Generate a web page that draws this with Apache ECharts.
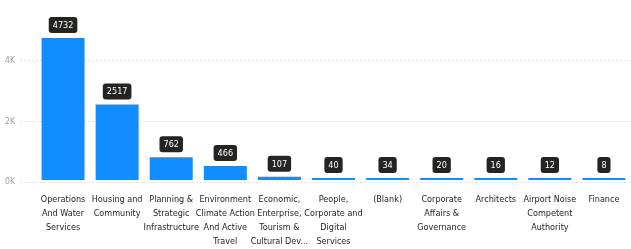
<!DOCTYPE html>
<html>
<head>
<meta charset="utf-8">
<script src="https://cdn.jsdelivr.net/npm/echarts@6/dist/echarts.min.js"></script>
<style>
  html, body { margin: 0; padding: 0; background: #fff; }
  #chart { width: 631px; height: 249px; }
</style>
</head>
<body>
<div id="chart"></div>
<script>
// Department names as shown on the axis (line breaks as in the picture)
const categories = [
  'Operations\nAnd Water\nServices',
  'Housing and\nCommunity',
  'Planning &\nStrategic\nInfrastructure',
  'Environment\nClimate Action\nAnd Active\nTravel',
  'Economic,\nEnterprise,\nTourism &\nCultural Dev...',
  'People,\nCorporate and\nDigital\nServices',
  '(Blank)',
  'Corporate\nAffairs &\nGovernance',
  'Architects',
  'Airport Noise\nCompetent\nAuthority',
  'Finance'
];
const counts = [4732, 2517, 762, 466, 107, 40, 34, 20, 16, 12, 8];
const yTicks = [0, 2000, 4000, 6000];

const font = '"DejaVu Sans Condensed", sans-serif';
const chart = echarts.init(document.getElementById('chart'), null, { renderer: 'canvas' });

// grid 0: the gridlines + value labels spanning the full width
// grid 1: the bars, inset a bit like the original visual
const option = {
  animation: false,
  grid: [
    { left: 20, right: 0, top: -1, bottom: 67 },
    { left: 36, right: -6, top: -1, bottom: 67 }
  ],
  xAxis: [
    { type: 'value', gridIndex: 0, show: false },
    {
      type: 'category',
      gridIndex: 1,
      data: categories,
      axisLine: { show: false },
      axisTick: { show: false },
      axisLabel: {
        interval: 0,
        margin: 13,
        fontFamily: font,
        fontSize: 9,
        lineHeight: 14,
        color: '#252423'
      }
    }
  ],
  yAxis: [
    {
      type: 'value',
      gridIndex: 0,
      min: yTicks[0],
      max: yTicks[yTicks.length - 1],
      interval: 2000,
      axisLine: { show: false },
      axisTick: { show: false },
      axisLabel: {
        showMaxLabel: false,
        margin: 5,
        fontFamily: font,
        fontSize: 8.5,
        color: '#a0a0a0',
        formatter: v => (v / 1000) + 'K'
      },
      splitLine: {
        showMaxLine: false,
        lineStyle: { color: '#e3e3e3', type: [2, 2], width: 1 }
      }
    },
    {
      type: 'value',
      gridIndex: 1,
      min: yTicks[0],
      max: yTicks[yTicks.length - 1],
      interval: 2000,
      show: false,
      splitLine: { show: false }
    }
  ],
  series: [{
    type: 'bar',
    xAxisIndex: 1,
    yAxisIndex: 1,
    data: counts,
    barWidth: 43,
    barMinHeight: 2,
    itemStyle: { color: '#118dff' },
    label: {
      show: true,
      position: 'top',
      distance: 5,
      fontFamily: font,
      fontSize: 9,
      color: '#ffffff',
      backgroundColor: '#252423',
      borderRadius: 3,
      padding: [4, 4, 3, 4]
    }
  }]
};

chart.setOption(option);
</script>
</body>
</html>
